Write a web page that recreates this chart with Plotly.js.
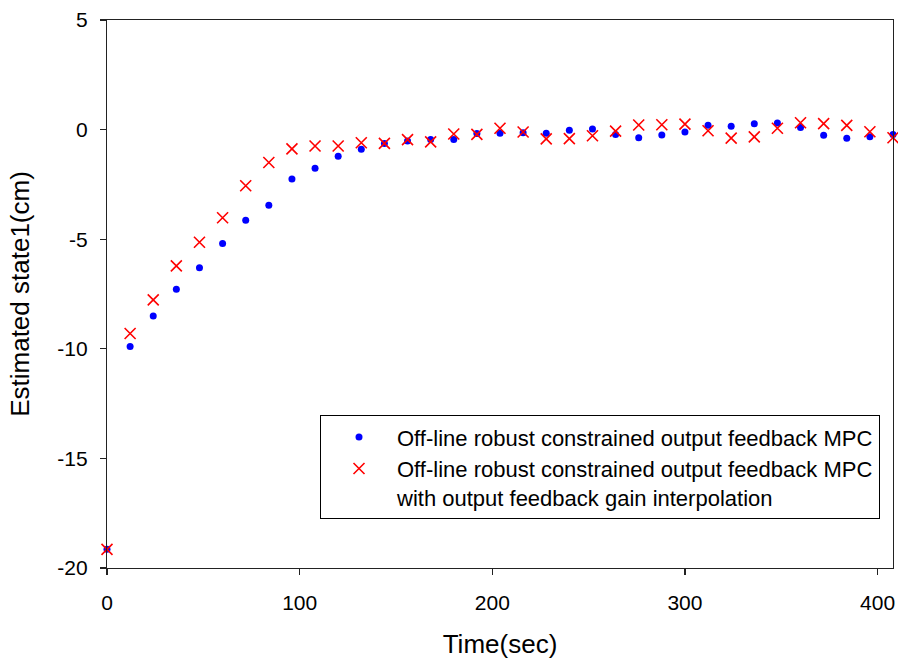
<!DOCTYPE html>
<html>
<head>
<meta charset="utf-8">
<script src="https://cdn.plot.ly/plotly-3.0.1.min.js"></script>
<style>html,body{margin:0;padding:0;background:#fff;}#chart{width:898px;height:659px;}</style>
</head>
<body>
<div id="chart"></div>
<script>
var timeSec = [0,12,24,36,48,60,72,84,96,108,120,132,144,156,168,180,192,204,216,228,240,252,264,276,288,300,312,324,336,348,360,372,384,396,408];
var offlineMPC = [-19.15,-9.9,-8.5,-7.28,-6.3,-5.2,-4.13,-3.45,-2.25,-1.76,-1.22,-0.9,-0.63,-0.52,-0.45,-0.45,-0.18,-0.17,-0.14,-0.17,-0.03,0.03,-0.22,-0.37,-0.25,-0.11,0.2,0.15,0.27,0.3,0.1,-0.26,-0.39,-0.33,-0.22];
var interpMPC = [-19.15,-9.3,-7.77,-6.22,-5.14,-4.02,-2.56,-1.5,-0.88,-0.75,-0.75,-0.6,-0.63,-0.46,-0.56,-0.2,-0.22,0.06,-0.11,-0.42,-0.41,-0.28,-0.07,0.21,0.22,0.25,-0.05,-0.39,-0.33,0.06,0.31,0.27,0.19,-0.1,-0.37];
var seriesNames = ["Off-line robust constrained output feedback MPC", "Off-line robust constrained output feedback MPC<br>with output feedback gain interpolation"];
var xTicks = [0,100,200,300,400];
var yTicks = [-20,-15,-10,-5,0,5];

var font = "Liberation Sans, Arial, sans-serif";
var traces = [
  {x: timeSec, y: offlineMPC, type: "scatter", mode: "markers", name: seriesNames[0],
   marker: {symbol: "circle", size: 7, color: "#0000ff"}, cliponaxis: false},
  {x: timeSec, y: interpMPC, type: "scatter", mode: "markers", name: seriesNames[1],
   marker: {symbol: "x-thin-open", size: 11, color: "#ff0000", line: {color: "#ff0000", width: 1.6}}, cliponaxis: false}
];
var axisCommon = {showline: true, linecolor: "#222", linewidth: 1.2, mirror: true, ticks: "outside",
  ticklen: 6, tickcolor: "#222", tickwidth: 1.2, showgrid: false, zeroline: false,
  tickfont: {family: font, size: 21, color: "#000"}};
var layout = {
  width: 898, height: 659,
  margin: {l: 107, r: 5, t: 20, b: 91},
  paper_bgcolor: "#fff", plot_bgcolor: "#fff",
  font: {family: font, color: "#000"},
  showlegend: true,
  xaxis: Object.assign({}, axisCommon, {range: [0, 408], tickvals: xTicks, ticktext: xTicks.map(String),
    ticklabelstandoff: 10,
    title: {text: "Time(sec)", font: {family: font, size: 26}, standoff: 22}}),
  yaxis: Object.assign({}, axisCommon, {range: [-20, 5], tickvals: yTicks, ticktext: yTicks.map(String),
    ticklabelstandoff: 8,
    title: {text: "Estimated state1(cm)", font: {family: font, size: 26}, standoff: 20}}),
  legend: {x: 0.271, y: 0.279, xanchor: "left", yanchor: "top", bgcolor: "#fff",
    bordercolor: "#000", borderwidth: 1, font: {family: font, size: 22, color: "#000"},
    tracegroupgap: 0, itemsizing: "trace", itemwidth: 66, valign: "top"}
};
Plotly.newPlot("chart", traces, layout, {displayModeBar: false, staticPlot: true});
</script>
</body>
</html>
